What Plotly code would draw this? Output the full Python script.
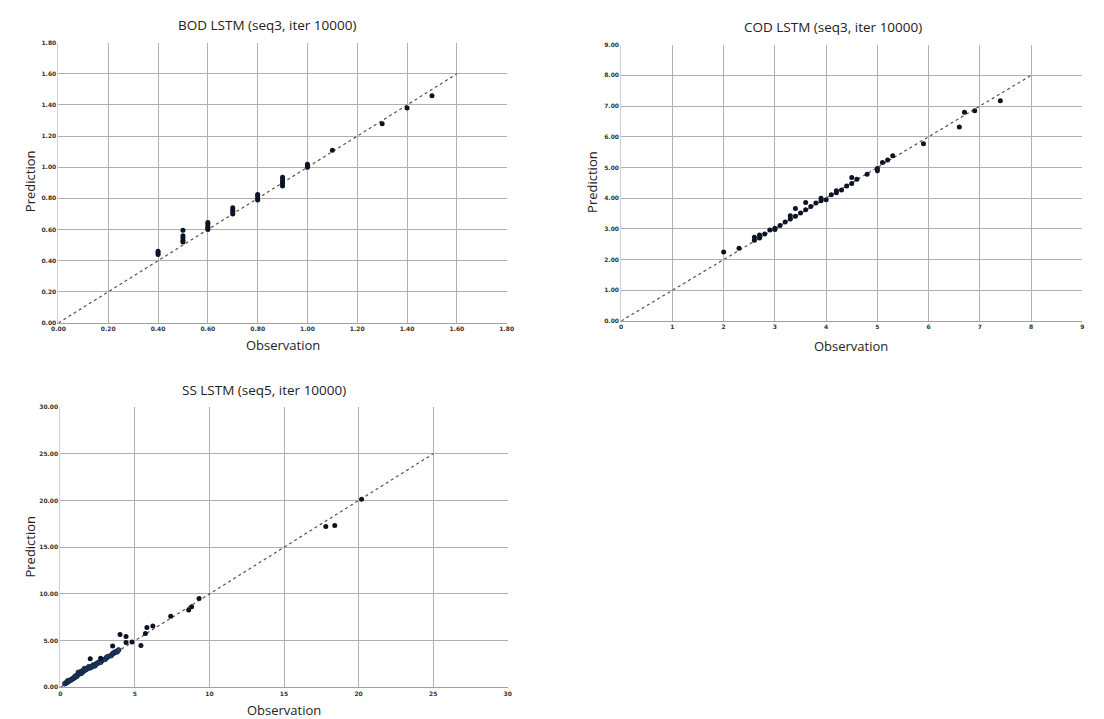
import plotly.graph_objects as go

# ---------------- data ----------------
bod_obs = [0.4, 0.4, 0.4, 0.5, 0.5, 0.5, 0.5, 0.5, 0.6, 0.6, 0.6, 0.6, 0.6,
           0.7, 0.7, 0.7, 0.7, 0.8, 0.8, 0.8, 0.8, 0.9, 0.9, 0.9, 0.9, 0.9,
           1.0, 1.0, 1.0, 1.1, 1.3, 1.4, 1.5]
bod_pred = [0.44, 0.45, 0.46, 0.52, 0.53, 0.545, 0.56, 0.595, 0.60, 0.61, 0.62, 0.635, 0.645,
            0.70, 0.715, 0.725, 0.74, 0.79, 0.80, 0.815, 0.825, 0.88, 0.895, 0.905, 0.92, 0.935,
            1.00, 1.01, 1.02, 1.11, 1.28, 1.38, 1.46]

cod_obs = [2.0, 2.3, 2.6, 2.6, 2.7, 2.7, 2.8, 2.9, 3.0, 3.0, 3.1, 3.2, 3.3, 3.3,
           3.4, 3.4, 3.5, 3.6, 3.6, 3.7, 3.8, 3.9, 3.9, 4.0, 4.1, 4.2, 4.2, 4.3,
           4.4, 4.5, 4.5, 4.6, 4.8, 5.0, 5.0, 5.1, 5.2, 5.3, 5.9, 6.6, 6.7, 6.9, 7.4]
cod_pred = [2.25, 2.37, 2.63, 2.73, 2.70, 2.80, 2.83, 2.96, 2.98, 3.02, 3.11, 3.22, 3.32, 3.43,
            3.41, 3.66, 3.52, 3.62, 3.86, 3.73, 3.84, 3.92, 4.00, 3.95, 4.11, 4.18, 4.24, 4.27,
            4.40, 4.48, 4.67, 4.62, 4.78, 4.89, 4.97, 5.16, 5.24, 5.38, 5.77, 6.32, 6.80, 6.85, 7.17]

# SS: dense low-range cluster and the scattered points
ss_cluster_obs = [0.3, 0.4, 0.5, 0.5, 0.6, 0.7, 0.8, 0.9, 1.0, 1.0, 1.1, 1.2, 1.2, 1.3,
                  1.4, 1.4, 1.5, 1.6, 1.6, 1.7, 1.8, 1.9, 2.0, 2.1, 2.2, 2.3, 2.4, 2.5,
                  2.6, 2.7, 2.8, 3.0, 3.1, 3.2, 3.4, 3.5, 3.6, 3.7, 3.8, 3.9]
ss_cluster_pred = [0.4, 0.5, 0.6, 0.7, 0.7, 0.8, 0.9, 1.0, 1.1, 1.2, 1.2, 1.4, 1.6, 1.5,
                   1.5, 1.7, 1.7, 1.8, 2.0, 1.9, 2.0, 2.2, 2.1, 2.2, 2.4, 2.3, 2.5, 2.6,
                   2.7, 2.7, 2.9, 3.0, 3.2, 3.3, 3.4, 3.6, 3.7, 3.8, 3.8, 4.0]
ss_obs = [2.0, 2.7, 3.5, 4.0, 4.4, 4.4, 4.8, 5.4, 5.7, 5.8, 6.2, 7.4, 8.6, 8.8,
          9.3, 17.8, 18.4, 20.2]
ss_pred = [3.05, 3.11, 4.42, 5.66, 5.45, 4.81, 4.85, 4.49, 5.77, 6.40, 6.58, 7.60, 8.28, 8.63,
           9.52, 17.23, 17.33, 20.13]

# reference (y = x) line end points for each chart
bod_line = [0, 1.6]
cod_line = [0, 8]
ss_line = [0, 25]

bod_ticks = [0, 0.2, 0.4, 0.6, 0.8, 1.0, 1.2, 1.4, 1.6, 1.8]
cod_xticks = list(range(0, 10))
cod_yticks = list(range(0, 10))
ss_xticks = [0, 5, 10, 15, 20, 25, 30]
ss_yticks = [0, 5, 10, 15, 20, 25, 30]

titles = ["BOD LSTM (seq3, iter 10000)", "COD LSTM (seq3, iter 10000)", "SS LSTM (seq5, iter 10000)"]

# ---------------- figure ----------------
W, H = 1104, 719
fig = go.Figure()

MARK = dict(color="#0b1424", size=5)
LINE = dict(color="#6e4a42", width=1.2, dash="dot")

fig.add_trace(go.Scatter(x=bod_line, y=bod_line, mode="lines", line=LINE, xaxis="x", yaxis="y", hoverinfo="skip"))
fig.add_trace(go.Scatter(x=bod_obs, y=bod_pred, mode="markers", marker=MARK, xaxis="x", yaxis="y"))

fig.add_trace(go.Scatter(x=cod_line, y=cod_line, mode="lines", line=LINE, xaxis="x2", yaxis="y2", hoverinfo="skip"))
fig.add_trace(go.Scatter(x=cod_obs, y=cod_pred, mode="markers", marker=MARK, xaxis="x2", yaxis="y2"))

fig.add_trace(go.Scatter(x=ss_line, y=ss_line, mode="lines", line=LINE, xaxis="x3", yaxis="y3", hoverinfo="skip"))
fig.add_trace(go.Scatter(x=ss_cluster_obs, y=ss_cluster_pred, mode="markers",
                         marker=dict(color="#1f3f6e", size=5, line=dict(color="#0b1424", width=0.6)),
                         xaxis="x3", yaxis="y3"))
fig.add_trace(go.Scatter(x=ss_obs, y=ss_pred, mode="markers", marker=MARK, xaxis="x3", yaxis="y3"))


def px_dom_x(a, b):
    return [a / W, b / W]


def px_dom_y(top, bottom):
    return [1 - bottom / H, 1 - top / H]


TICKFONT = dict(family="DejaVu Sans", size=6, color="#333333", weight=700)
GRID = "#b0b0b0"


def xaxis(domain, rng, ticks, fmt, anchor):
    return dict(domain=domain, range=rng, tickvals=ticks, ticktext=[fmt.format(t) for t in ticks],
                showgrid=True, gridcolor=GRID, gridwidth=1, zeroline=False,
                showline=True, linecolor="#a0a0a0", linewidth=1, ticks="",
                tickfont=TICKFONT, anchor=anchor, fixedrange=True)


def yaxis(domain, rng, ticks, fmt, anchor):
    return dict(domain=domain, range=rng, tickvals=ticks, ticktext=[fmt.format(t) for t in ticks],
                showgrid=True, gridcolor=GRID, gridwidth=1, zeroline=False,
                showline=True, linecolor="#d0d0d0", linewidth=1, ticks="",
                tickfont=TICKFONT, anchor=anchor, fixedrange=True)


fig.update_layout(
    width=W, height=H,
    margin=dict(l=0, r=0, t=0, b=0),
    paper_bgcolor="white", plot_bgcolor="white",
    showlegend=False,
    xaxis=xaxis(px_dom_x(44, 498), [0, 1.8], bod_ticks, "{:.2f}", "y"),
    yaxis=yaxis(px_dom_y(31, 314), [0, 1.8], bod_ticks, "{:.2f}", "x"),
    xaxis2=xaxis(px_dom_x(614, 1081), [0, 9], cod_xticks, "{:d}", "y2"),
    yaxis2=yaxis(px_dom_y(33, 312), [0, 9], cod_yticks, "{:.2f}", "x2"),
    xaxis3=xaxis(px_dom_x(46, 499), [0, 30], ss_xticks, "{:d}", "y3"),
    yaxis3=yaxis(px_dom_y(399, 682), [0, 30], ss_yticks, "{:.2f}", "x3"),
)

TFONT = dict(family="Open Sans", size=13.5, color="#222222")
AFONT = dict(family="Open Sans", size=13, color="#222222")


def ann(text, x, y, font, angle=0):
    fig.add_annotation(text=text, x=x / W, y=1 - y / H, xref="paper", yref="paper",
                       showarrow=False, font=font, textangle=angle,
                       xanchor="center", yanchor="middle")


ann(titles[0], 255, 13, TFONT)
ann(titles[1], 828, 15, TFONT)
ann(titles[2], 252, 382, TFONT)

ann("Observation", 271, 336, AFONT)
ann("Observation", 847, 337, AFONT)
ann("Observation", 272, 705, AFONT)

ann("Prediction", 16, 171, AFONT, -90)
ann("Prediction", 585, 172, AFONT, -90)
ann("Prediction", 15, 540, AFONT, -90)

fig.write_html("out.html")
